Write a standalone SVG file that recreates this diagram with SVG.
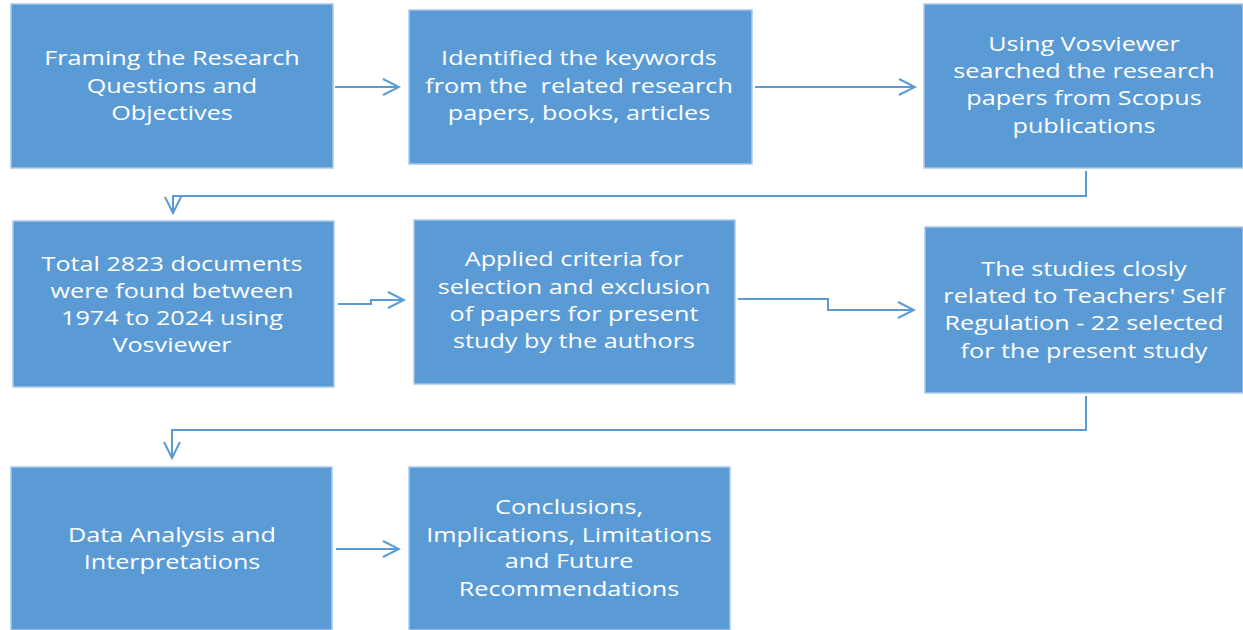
<svg xmlns="http://www.w3.org/2000/svg" width="1243" height="630" viewBox="0 0 1243 630">
<defs>
<style>
.box{fill:#5B9BD5;stroke:#A9C8EA;stroke-width:1.5}
.t{font-family:"Open Sans","Noto Sans",sans-serif;font-size:20px;fill:#ffffff;text-anchor:middle}
.c{fill:none;stroke:#5B9BD5;stroke-width:2}
</style>
<marker id="ahb" viewBox="0 0 20 20" refX="18" refY="10" markerWidth="20" markerHeight="20" markerUnits="userSpaceOnUse" orient="auto">
<path d="M2,2 L18,10 L2,18" fill="none" stroke="#5B9BD5" stroke-width="2"/>
</marker>
</defs>
<rect width="1243" height="630" fill="#ffffff"/>
<g id="connectors">
<path class="c" d="M335,87 H399" marker-end="url(#ahb)"/>
<path class="c" d="M755,87 H915" marker-end="url(#ahb)"/>
<path class="c" d="M1086,171 V196 H173 V213" marker-end="url(#ahb)"/>
<path class="c" d="M338,304 H371 V300 H404" marker-end="url(#ahb)"/>
<path class="c" d="M738,299 H828 V310 H914" marker-end="url(#ahb)"/>
<path class="c" d="M1086,396 V430 H172 V458" marker-end="url(#ahb)"/>
<path class="c" d="M336,549 H399" marker-end="url(#ahb)"/>
</g>
<g id="n1"><rect class="box" x="11" y="4" width="322" height="164"/>
<g transform="translate(172,0) scale(1.26,1)"><text class="t" x="0" y="65">Framing the Research</text><text class="t" x="0" y="93">Questions and</text><text class="t" x="0" y="120">Objectives</text></g></g>
<g id="n2"><rect class="box" x="409" y="10" width="343" height="154"/>
<g transform="translate(579,0) scale(1.26,1)"><text class="t" x="0" y="65">Identified the keywords</text><text class="t" x="0" y="93" xml:space="preserve">from the  related research</text><text class="t" x="0" y="120">papers, books, articles</text></g></g>
<g id="n3"><rect class="box" x="924" y="4" width="319" height="164"/>
<g transform="translate(1084,0) scale(1.26,1)"><text class="t" x="0" y="51">Using Vosviewer</text><text class="t" x="0" y="78">searched the research</text><text class="t" x="0" y="105">papers from Scopus</text><text class="t" x="0" y="133">publications</text></g></g>
<g id="n4"><rect class="box" x="13" y="221" width="321" height="166"/>
<g transform="translate(172,0) scale(1.26,1)"><text class="t" x="0" y="271">Total 2823 documents</text><text class="t" x="0" y="298">were found between</text><text class="t" x="0" y="325">1974 to 2024 using</text><text class="t" x="0" y="352">Vosviewer</text></g></g>
<g id="n5"><rect class="box" x="414" y="220" width="321" height="164"/>
<g transform="translate(574,0) scale(1.26,1)"><text class="t" x="0" y="266">Applied criteria for</text><text class="t" x="0" y="294">selection and exclusion</text><text class="t" x="0" y="321">of papers for present</text><text class="t" x="0" y="348">study by the authors</text></g></g>
<g id="n6"><rect class="box" x="925" y="227" width="318" height="166"/>
<g transform="translate(1084,0) scale(1.26,1)"><text class="t" x="0" y="276">The studies closly</text><text class="t" x="0" y="303">related to Teachers' Self</text><text class="t" x="0" y="330">Regulation - 22 selected</text><text class="t" x="0" y="358">for the present study</text></g></g>
<g id="n7"><rect class="box" x="11" y="467" width="321" height="163"/>
<g transform="translate(172,0) scale(1.26,1)"><text class="t" x="0" y="542">Data Analysis and</text><text class="t" x="0" y="569">Interpretations</text></g></g>
<g id="n8"><rect class="box" x="409" y="467" width="321" height="163"/>
<g transform="translate(569,0) scale(1.26,1)"><text class="t" x="0" y="514">Conclusions,</text><text class="t" x="0" y="542">Implications, Limitations</text><text class="t" x="0" y="568">and Future</text><text class="t" x="0" y="596">Recommendations</text></g></g>
</svg>
